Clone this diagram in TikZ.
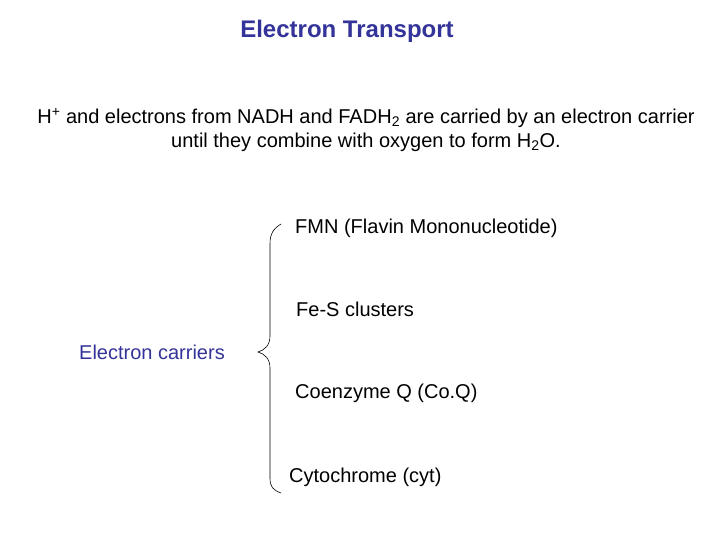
\documentclass[tikz,border=0pt]{standalone}
\usepackage{fontspec}
\setmainfont{Liberation Sans}
\begin{document}
\begin{tikzpicture}[x=1pt,y=-1pt,
  body/.style={font=\fontsize{20}{24}\selectfont,inner sep=0pt},
  blu/.style={text={rgb,255:red,51;green,51;blue,153}}]
\useasboundingbox (0,0) rectangle (720,540);
\node[blu,font=\fontsize{24}{28}\selectfont\bfseries,inner sep=0pt] (title) at (347,31) {Electron Transport};
\node[body,align=center] (intro) at (366,130) {H\textsuperscript{+} and electrons from NADH and FADH\textsubscript{2} are carried by an electron carrier\\until they combine with oxygen to form H\textsubscript{2}O.};
\node[body,anchor=west] (fmn) at (295,228) {FMN (Flavin Mononucleotide)};
\node[body,anchor=west] (fes) at (296,309) {Fe-S clusters};
\node[body,anchor=west] (coq) at (295,393) {Coenzyme Q (Co.Q)};
\node[body,anchor=west] (cyt) at (289,477) {Cytochrome (cyt)};
\node[body,blu,anchor=east] (ec) at (225,352) {Electron carriers};
\draw[line width=0.6pt] (281,224) .. controls (273,229) and (270,234) .. (270,244)
  -- (270,336) .. controls (270,345) and (265,350) .. (258,352)
  .. controls (265,354) and (270,359) .. (270,368)
  -- (270,478) .. controls (270,487) and (273,490) .. (281,493);
\end{tikzpicture}
\end{document}
